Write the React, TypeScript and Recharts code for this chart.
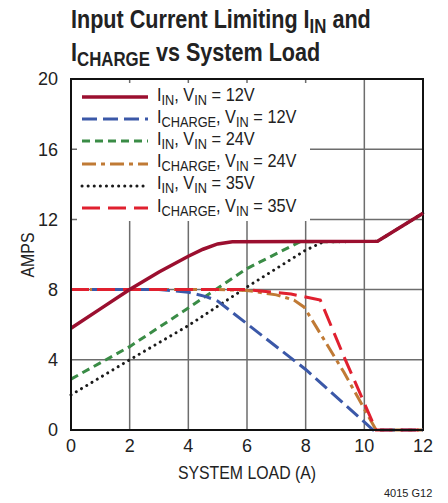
import React from "react";
import {
	LineChart,
	Line,
	XAxis,
	YAxis,
	CartesianGrid,
	ReferenceArea,
} from "recharts";

// system load (A) / amps
const iin12X = [0, 1, 2, 3, 4, 4.5, 5, 5.5, 10.45, 12];
const iin12Y = [5.8, 6.9, 8.0, 9.0, 9.9, 10.3, 10.6, 10.72, 10.75, 12.35];

const ichg12X = [0, 3, 4, 4.6, 5.0, 8, 10.3, 12];
const ichg12Y = [8, 8, 7.85, 7.6, 7.35, 3.45, 0, 0];

const iin24X = [0, 2, 4, 6, 7.8, 10.45, 12];
const iin24Y = [2.9, 4.75, 6.95, 9.2, 10.72, 10.75, 12.35];

const ichg24X = [0, 5, 6, 7, 7.6, 7.95, 9.3, 10.4, 12];
const ichg24Y = [8, 8, 7.95, 7.7, 7.4, 7.0, 3.3, 0, 0];

const iin35X = [0, 2, 4, 6, 8, 8.6, 10.45, 12];
const iin35Y = [2.0, 4.0, 5.95, 8.15, 10.25, 10.72, 10.75, 12.35];

const ichg35X = [0, 6, 7.5, 8.5, 9.3, 10.4, 12];
const ichg35Y = [8, 8, 7.75, 7.4, 4.2, 0, 0];

const xTicks = [0, 2, 4, 6, 8, 10, 12];
const yTicks = [0, 4, 8, 12, 16, 20];

const zip = (xs: number[], ys: number[]) =>
	xs.map((x, i) => ({ load: x, amps: ys[i] }));

const font = "'Liberation Sans Narrow', 'Liberation Sans', Arial, sans-serif";

const series = [
	{ key: "iin24", data: zip(iin24X, iin24Y), color: "#3a8c46", dash: "8 5", w: 3, sub: "IN", vin: "24" },
	{ key: "iin35", data: zip(iin35X, iin35Y), color: "#1a1a1a", dash: "0.1 6", w: 3, sub: "IN", vin: "35", cap: "round" },
	{ key: "ichg24", data: zip(ichg24X, ichg24Y), color: "#c07a35", dash: "14 5 4 5", w: 3, sub: "CHARGE", vin: "24" },
	{ key: "ichg12", data: zip(ichg12X, ichg12Y), color: "#3b58a8", dash: "15 6", w: 3, sub: "CHARGE", vin: "12" },
	{ key: "ichg35", data: zip(ichg35X, ichg35Y), color: "#e0202f", dash: "18 8", w: 3, sub: "CHARGE", vin: "35" },
	{ key: "iin12", data: zip(iin12X, iin12Y), color: "#9b0f2f", dash: undefined, w: 3.5, sub: "IN", vin: "12" },
];

const legendOrder = ["iin12", "ichg12", "iin24", "ichg24", "iin35", "ichg35"];

const subStyle: React.CSSProperties = { fontSize: "0.78em", verticalAlign: "-0.25em" };

const narrow = (s: number): React.CSSProperties => ({
	display: "inline-block",
	transform: `scaleX(${s})`,
	transformOrigin: "left center",
});

export default function App() {
	return (
		<div style={{ position: "absolute", left: 0, top: 0, width: 448, height: 503, background: "#fff", fontFamily: font }}>
			<div style={{ position: "absolute", left: 71, top: 6, fontSize: 26, fontWeight: "bold", lineHeight: "26px", color: "#222", whiteSpace: "nowrap", ...narrow(0.83) }}>
				<div>Input Current Limiting I<span style={subStyle}>IN</span> and</div>
				<div>I<span style={subStyle}>CHARGE</span> vs System Load</div>
			</div>

			<div style={{ position: "absolute", left: 0, top: 0 }}>
				<LineChart width={448} height={503} margin={{ top: 79, right: 25, bottom: 33, left: 21 }}>
					<CartesianGrid stroke="#6d6d6d" strokeWidth={1.5} />
					<XAxis
						type="number"
						dataKey="load"
						domain={[0, 12]}
						ticks={xTicks}
						height={40}
						tickLine={false}
						tickSize={0}
						tickMargin={9}
						axisLine={{ stroke: "#111", strokeWidth: 2 }}
						tick={{ fill: "#222", fontSize: 18, fontFamily: font }}
						allowDuplicatedCategory={false}
					/>
					<YAxis
						type="number"
						dataKey="amps"
						domain={[0, 20]}
						ticks={yTicks}
						width={50}
						tickLine={false}
						tickSize={0}
						tickMargin={13}
						axisLine={{ stroke: "#111", strokeWidth: 2 }}
						tick={{ fill: "#222", fontSize: 18, fontFamily: font }}
					/>
					<ReferenceArea x1={0} x2={12} y1={0} y2={20} fill="none" stroke="#111" strokeWidth={2} />
					{series.map((s) => (
						<Line
							key={s.key}
							data={s.data}
							dataKey="amps"
							type="linear"
							stroke={s.color}
							strokeWidth={s.w}
							strokeDasharray={s.dash}
							strokeLinecap={(s.cap as any) || "butt"}
							dot={false}
							activeDot={false}
							isAnimationActive={false}
						/>
					))}
				</LineChart>
			</div>

			<div style={{ position: "absolute", left: 77, top: 83, width: 233, height: 138, background: "#fff" }}>
				{legendOrder.map((k, i) => {
					const s = series.find((x) => x.key === k)!;
					return (
						<div key={k} style={{ position: "absolute", left: 0, top: 3 + i * 22.2, height: 22, display: "flex", alignItems: "center", whiteSpace: "nowrap" }}>
							<svg width={80} height={8} style={{ flex: "none" }}>
								<line x1={5} y1={4} x2={71} y2={4} stroke={s.color} strokeWidth={s.w} strokeDasharray={s.dash} strokeLinecap={(s.cap as any) || "butt"} />
							</svg>
							<span style={{ fontSize: 19, color: "#222", lineHeight: "20px", ...narrow(0.86) }}>
								I<span style={subStyle}>{s.sub}</span>, V<span style={subStyle}>IN</span> = {s.vin}V
							</span>
						</div>
					);
				})}
			</div>

			<div style={{ position: "absolute", left: 28, top: 255, transform: "translate(-50%, -50%) rotate(-90deg) scaleX(0.88)", fontSize: 18, color: "#222", whiteSpace: "nowrap" }}>
				AMPS
			</div>
			<div style={{ position: "absolute", left: 247, top: 473, transform: "translate(-50%, -50%) scaleX(0.88)", fontSize: 18, color: "#222", whiteSpace: "nowrap" }}>
				SYSTEM LOAD (A)
			</div>
			<div style={{ position: "absolute", left: 384, top: 487, fontSize: 11, color: "#222", whiteSpace: "nowrap" }}>
				4015 G12
			</div>
		</div>
	);
}
